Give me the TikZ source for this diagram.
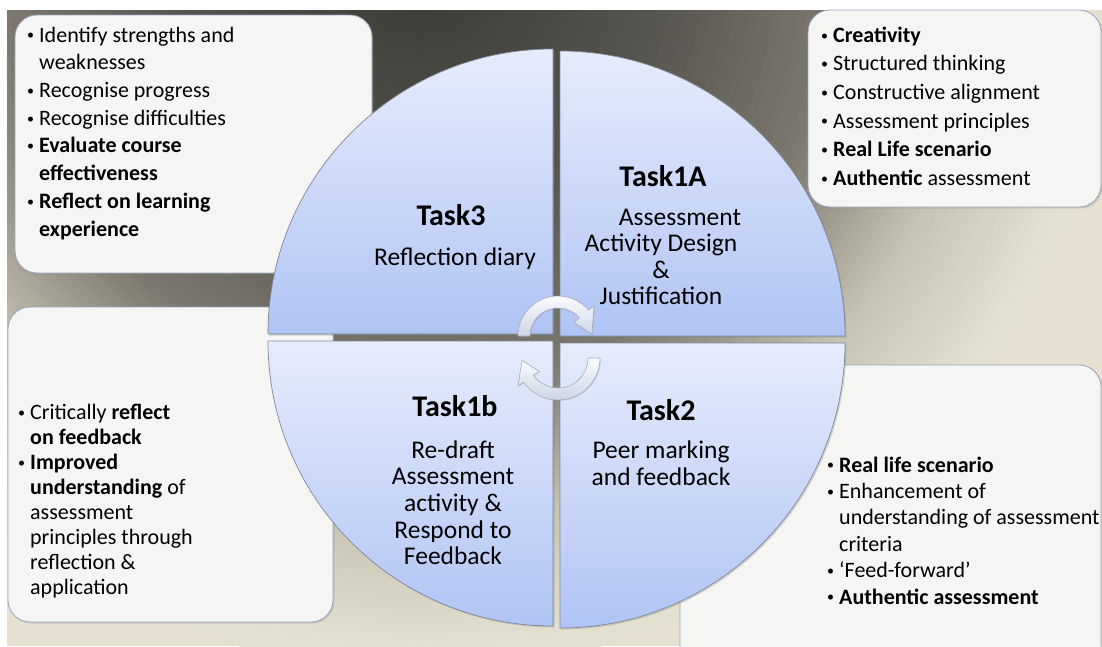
\documentclass[tikz,border=0pt]{standalone}
\usepackage{fontspec}
\setmainfont{Carlito}
\usetikzlibrary{shadows}
\definecolor{bgE}{RGB}{229,224,208}
\definecolor{qtop}{HTML}{E6ECFC}
\definecolor{qbot}{HTML}{B0C4F4}
\definecolor{qline}{HTML}{7E8798}
\definecolor{boxfill}{HTML}{F5F5F3}
\definecolor{boxline}{HTML}{9AA3BC}
\definecolor{arrA}{HTML}{FBFCFE}
\definecolor{arrB}{HTML}{CDD5E4}
\definecolor{arrline}{HTML}{A3ABBB}
\newcommand{\bgcol}[1]{%
  \pgfmathsetmacro\bgtA{min(max(#1/250,0),1)}%
  \pgfmathsetmacro\bgtB{min(max((#1-250)/170,0),1)}%
  \pgfmathsetmacro\bgtC{min(max((#1-420)/140,0),1)}%
  \pgfmathsetmacro\bgtD{min(max((#1-560)/120,0),1)}%
  \pgfmathtruncatemacro\bgcR{59+29*\bgtA+37*\bgtB+75*\bgtC+28*\bgtD}%
  \pgfmathtruncatemacro\bgcG{58+28*\bgtA+35*\bgtB+75*\bgtC+28*\bgtD}%
  \pgfmathtruncatemacro\bgcB{54+26*\bgtA+32*\bgtB+68*\bgtC+28*\bgtD}%
  \definecolor{bgtmp}{RGB}{\bgcR,\bgcG,\bgcB}%
}
\newcommand{\bit}{\makebox[12pt][l]{\raisebox{0.1em}{\fontsize{14}{14}\selectfont\textbullet}}}
\newcommand{\cont}{\hspace*{12pt}}
\begin{document}
\begin{tikzpicture}[x=1pt,y=-1pt,
  cbox/.style={draw=boxline, line width=0.8pt, fill=boxfill, rounded corners=22pt,
    drop shadow={shadow xshift=1.5pt, shadow yshift=-1.5pt, opacity=0.25}},
  quad/.style={top color=qtop, bottom color=qbot, draw=qline, line width=0.7pt,
    drop shadow={shadow xshift=1.5pt, shadow yshift=-1.5pt, opacity=0.3}},
  circarrow/.style={top color=arrA, bottom color=arrB, draw=arrline, line width=0.6pt, line join=round,
    drop shadow={shadow xshift=1pt, shadow yshift=-1pt, opacity=0.2}},
  listtext/.style={anchor=north west, inner sep=0pt, align=left},
  ttl/.style={inner sep=0pt, anchor=base, font=\fontsize{30}{32}\selectfont\bfseries},
  qbody/.style={inner sep=0pt, anchor=north, align=center, font=\fontsize{25.5}{26.6}\selectfont}]
\useasboundingbox (0,0) rectangle (1102,646);
\fill[white] (0,0) rectangle (1102,646);
% background
\begin{scope}
  \clip (7,10) rectangle (1102,646);
  \fill[bgE] (7,10) rectangle (1102,646);
  \foreach \r in {700,692,...,4} {
    \bgcol{\r}
    \fill[bgtmp] (420,-30) circle (\r);
  }
\end{scope}
% corner boxes
\path[cbox] (15,15) rectangle (372,273);
\path[cbox] (808,10) rectangle (1101,207);
\path[cbox] (8,307) rectangle (333,622);
\path[cbox] (680,365) rectangle (1101,680);
% quadrants
\path[quad] (553,334) -- ++(-285,0) arc[start angle=180,end angle=270,radius=285] -- cycle;
\path[quad] (560,336) -- ++(0,-285) arc[start angle=270,end angle=360,radius=285] -- cycle;
\path[quad] (560,343) -- ++(285,0) arc[start angle=0,end angle=90,radius=285] -- cycle;
\path[quad] (553,341) -- ++(0,285) arc[start angle=90,end angle=180,radius=285] -- cycle;
% circular arrows
\begin{scope}[shift={(558,336)}]
  \path[circarrow] (180:40) arc[start angle=180,end angle=320,radius=40] -- (320:47) -- (357:34) -- (320:21) -- (320:28) arc[start angle=320,end angle=180,radius=28] -- cycle;
\end{scope}
\begin{scope}[shift={(558,358)}]
  \path[circarrow] (0:42) arc[start angle=0,end angle=145,radius=42] -- (145:49) -- (176:36) -- (145:23) -- (145:30) arc[start angle=145,end angle=0,radius=30] -- cycle;
\end{scope}
% box texts
\node[listtext, font=\fontsize{22}{27.7}\selectfont] (tltext) at (27,22.6) {\strut\bit Identify strengths and\\ \cont weaknesses\\ \bit Recognise progress\\ \bit Recognise difficulties\\ \bit\textbf{Evaluate course}\\ \cont\textbf{effectiveness}\\ \bit\textbf{Reflect on learning}\\ \cont\textbf{experience}};
\node[listtext, font=\fontsize{22}{28.6}\selectfont] (trtext) at (821,22) {\strut\bit\textbf{Creativity}\\ \bit Structured thinking\\ \bit Constructive alignment\\ \bit Assessment principles\\ \bit\textbf{Real Life scenario}\\ \bit\textbf{Authentic} assessment};
\node[listtext, font=\fontsize{22}{25}\selectfont] (bltext) at (18,401.5) {\strut\bit Critically \textbf{reflect}\\ \cont\textbf{on feedback}\\ \bit\textbf{Improved}\\ \cont\textbf{understanding} of\\ \cont assessment\\ \cont principles through\\ \cont reflection \&\\ \cont application};
\node[listtext, font=\fontsize{22}{26.4}\selectfont] (brtext) at (827,453.5) {\strut\bit\textbf{Real life scenario}\\ \bit Enhancement of\\ \cont understanding of assessment\\ \cont criteria\\ \bit `Feed-forward'\\ \bit\textbf{Authentic assessment}};
% quadrant texts
\node[ttl] (t3) at (451,225) {Task3};
\node[inner sep=0pt, anchor=base, font=\fontsize{25.5}{26.6}\selectfont] (t3b) at (455,265) {Reflection diary};
\node[ttl] (t1a) at (663,186) {Task1A};
\node[qbody] (t1ab) at (661,206.3) {\strut\hspace*{38pt}Assessment\\ Activity Design\\ \&\\ Justification};
\node[ttl] (t1b) at (455,416) {Task1b};
\node[qbody] (t1bb) at (453,439.5) {\strut Re-draft\\ Assessment\\ activity \&\\ Respond to\\ Feedback};
\node[ttl] (t2) at (661,420) {Task2};
\node[qbody] (t2b) at (661,439.8) {\strut Peer marking\\ and feedback};
\end{tikzpicture}
\end{document}
